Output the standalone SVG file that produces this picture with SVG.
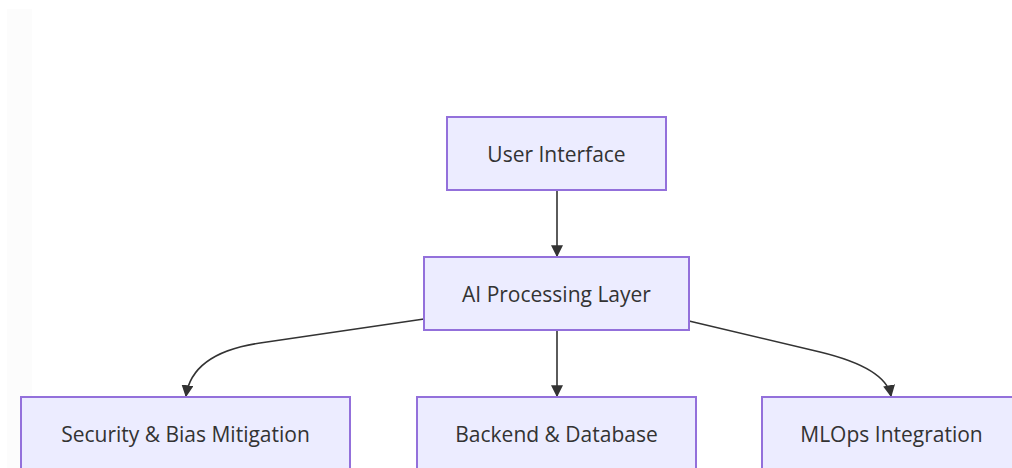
<svg xmlns="http://www.w3.org/2000/svg" width="1012" height="468" viewBox="0 0 1012 468">
  <style>
    .node rect { fill: #ECECFF; stroke: #9370DB; stroke-width: 2; }
    .node text { font-family: "Open Sans", "DejaVu Sans", sans-serif; font-size: 21px; fill: #333333; text-anchor: middle; dominant-baseline: central; }
    .edge { fill: none; stroke: #333333; stroke-width: 1.6; marker-end: url(#arrow); }
  </style>
  <defs>
    <marker id="arrow" viewBox="0 0 10 10" refX="9" refY="5" markerUnits="userSpaceOnUse" markerWidth="12" markerHeight="12" orient="auto">
      <path d="M0,0 L10,5 L0,10 z" fill="#333333"/>
    </marker>
  </defs>
  <rect width="1012" height="468" fill="#ffffff"/>
  <rect x="7" y="9" width="25" height="459" fill="#fcfcfc"/>

  <g id="connectors">
    <path class="edge" d="M557,191 L557,256"/>
    <path class="edge" d="M557,331 L557,396"/>
    <path class="edge" d="M424,319 L260,343 Q192,353 186,396"/>
    <path class="edge" d="M689,321 L820,352 Q886,368 891,396"/>
  </g>

  <g id="user-interface" class="node">
    <rect x="447" y="117" width="219" height="73"/>
    <text x="556.5" y="153.5">User Interface</text>
  </g>
  <g id="ai-processing" class="node">
    <rect x="424" y="257" width="265" height="73"/>
    <text x="556.5" y="293.5">AI Processing Layer</text>
  </g>
  <g id="security-bias" class="node">
    <rect x="21" y="397" width="329" height="73"/>
    <text x="185.5" y="433.5">Security &amp; Bias Mitigation</text>
  </g>
  <g id="backend-database" class="node">
    <rect x="417" y="397" width="279" height="73"/>
    <text x="556.5" y="433.5">Backend &amp; Database</text>
  </g>
  <g id="mlops" class="node">
    <rect x="762" y="397" width="259" height="73"/>
    <text x="891.5" y="433.5">MLOps Integration</text>
  </g>
</svg>
